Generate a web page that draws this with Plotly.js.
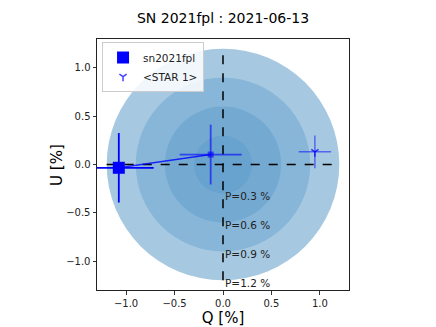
<!DOCTYPE html>
<html>
<head>
<meta charset="utf-8">
<script src="https://cdn.plot.ly/plotly-3.0.1.min.js"></script>
<style>
  html, body { margin: 0; padding: 0; background: #fff; }
  #qu { width: 436px; height: 327px; }
</style>
</head>
<body>
<div id="qu"></div>
<script>
// Q/U values (in %)
const snQ = [-1.075, -0.127];
const snU = [-0.034, 0.103];
const snQerr = [0.36, 0.32];
const snUerr = [0.36, 0.31];

const starQ = [0.948];
const starU = [0.131];
const starQerr = [0.167];
const starUerr = [0.17];

// constant polarization circles
const polLevels = [0.3, 0.6, 0.9, 1.2];
const ringColors = ["#68a2ce", "#74aad2", "#87b6d8", "#a6c9e1"];

const font = "DejaVu Sans, sans-serif";

// big circles first so the small ones sit on top
const shapes = [];
for (let i = polLevels.length - 1; i >= 0; i--) {
    const r = polLevels[i];
    shapes.push({
        type: "circle", xref: "x", yref: "y", layer: "below",
        x0: -r, x1: r, y0: -r, y1: r,
        fillcolor: ringColors[i], line: { width: 0 }
    });
}
const rMax = polLevels[polLevels.length - 1];
shapes.push({ type: "line", xref: "x", yref: "y", layer: "below",
    x0: -rMax, x1: rMax, y0: 0, y1: 0, line: { color: "black", width: 1.5, dash: "dash" } });
shapes.push({ type: "line", xref: "x", yref: "y", layer: "below",
    x0: 0, x1: 0, y0: -rMax, y1: rMax, line: { color: "black", width: 1.5, dash: "dash" } });

const annotations = polLevels.map(r => ({
    x: 0, y: -r - 0.03, xref: "x", yref: "y",
    text: "P=" + r + " %", showarrow: false,
    xanchor: "left", yanchor: "middle",
    font: { family: font, size: 10.5, color: "#222" }
}));
// y title as an annotation, the axis title drifts too far left
annotations.push({
    x: -0.161, y: 0.5, xref: "paper", yref: "paper",
    text: "U [%]", textangle: -90, showarrow: false,
    xanchor: "center", yanchor: "middle",
    font: { family: font, size: 15, color: "black" }
});

const traces = [
    {   // line joining the two epochs
        x: snQ, y: snU, mode: "lines", showlegend: false, hoverinfo: "skip",
        line: { color: "rgba(0,0,255,0.8)", width: 1.5 }
    },
    {
        x: [snQ[0]], y: [snU[0]], mode: "markers", name: "sn2021fpl",
        marker: { symbol: "square", size: 12, color: "blue" },
        error_x: { type: "data", array: [snQerr[0]], color: "blue", thickness: 1.8, width: 0 },
        error_y: { type: "data", array: [snUerr[0]], color: "blue", thickness: 1.8, width: 0 }
    },
    {
        x: [snQ[1]], y: [snU[1]], mode: "markers", showlegend: false,
        marker: { symbol: "square", size: 6, color: "rgba(0,0,255,0.6)" },
        error_x: { type: "data", array: [snQerr[1]], color: "rgba(0,0,255,0.6)", thickness: 1.8, width: 0 },
        error_y: { type: "data", array: [snUerr[1]], color: "rgba(0,0,255,0.6)", thickness: 1.8, width: 0 }
    },
    {
        x: starQ, y: starU, mode: "markers", name: "&lt;STAR 1&gt;",
        marker: { symbol: "y-down", size: 6, color: "blue",
                  line: { color: "rgba(0,0,255,0.75)", width: 1.5 } },
        error_x: { type: "data", array: starQerr, color: "rgba(0,0,255,0.5)", thickness: 1.5, width: 0 },
        error_y: { type: "data", array: starUerr, color: "rgba(0,0,255,0.5)", thickness: 1.5, width: 0 }
    }
];

const axisStyle = {
    range: [-1.3, 1.3], dtick: 0.5, tickformat: ".1f",
    ticks: "outside", ticklen: 3.5, tickcolor: "#333",
    showgrid: false, zeroline: false,
    showline: true, mirror: true, linecolor: "#222", linewidth: 1,
    tickfont: { family: font, size: 10, color: "#222" }
};

const layout = {
    width: 436, height: 327,
    margin: { l: 97, r: 87, t: 39, b: 37 },
    paper_bgcolor: "white", plot_bgcolor: "white",
    title: { text: "SN 2021fpl : 2021-06-13", x: 223 / 436, xanchor: "center",
             y: 1 - 18 / 327, yanchor: "middle",
             font: { family: font, size: 14, color: "black" } },
    xaxis: Object.assign({}, axisStyle, {
        title: { text: "Q [%]", standoff: 3, font: { family: font, size: 15, color: "black" } }
    }),
    yaxis: axisStyle,
    shapes: shapes,
    annotations: annotations,
    showlegend: true,
    legend: {
        x: 0.02, y: 0.988, xanchor: "left", yanchor: "top",
        bgcolor: "rgba(255,255,255,0.85)", bordercolor: "#ccc", borderwidth: 1,
        font: { family: font, size: 10.5, color: "#222" },
        tracegroupgap: 0
    }
};

Plotly.newPlot("qu", traces, layout, { displayModeBar: false, staticPlot: true });
</script>
</body>
</html>
